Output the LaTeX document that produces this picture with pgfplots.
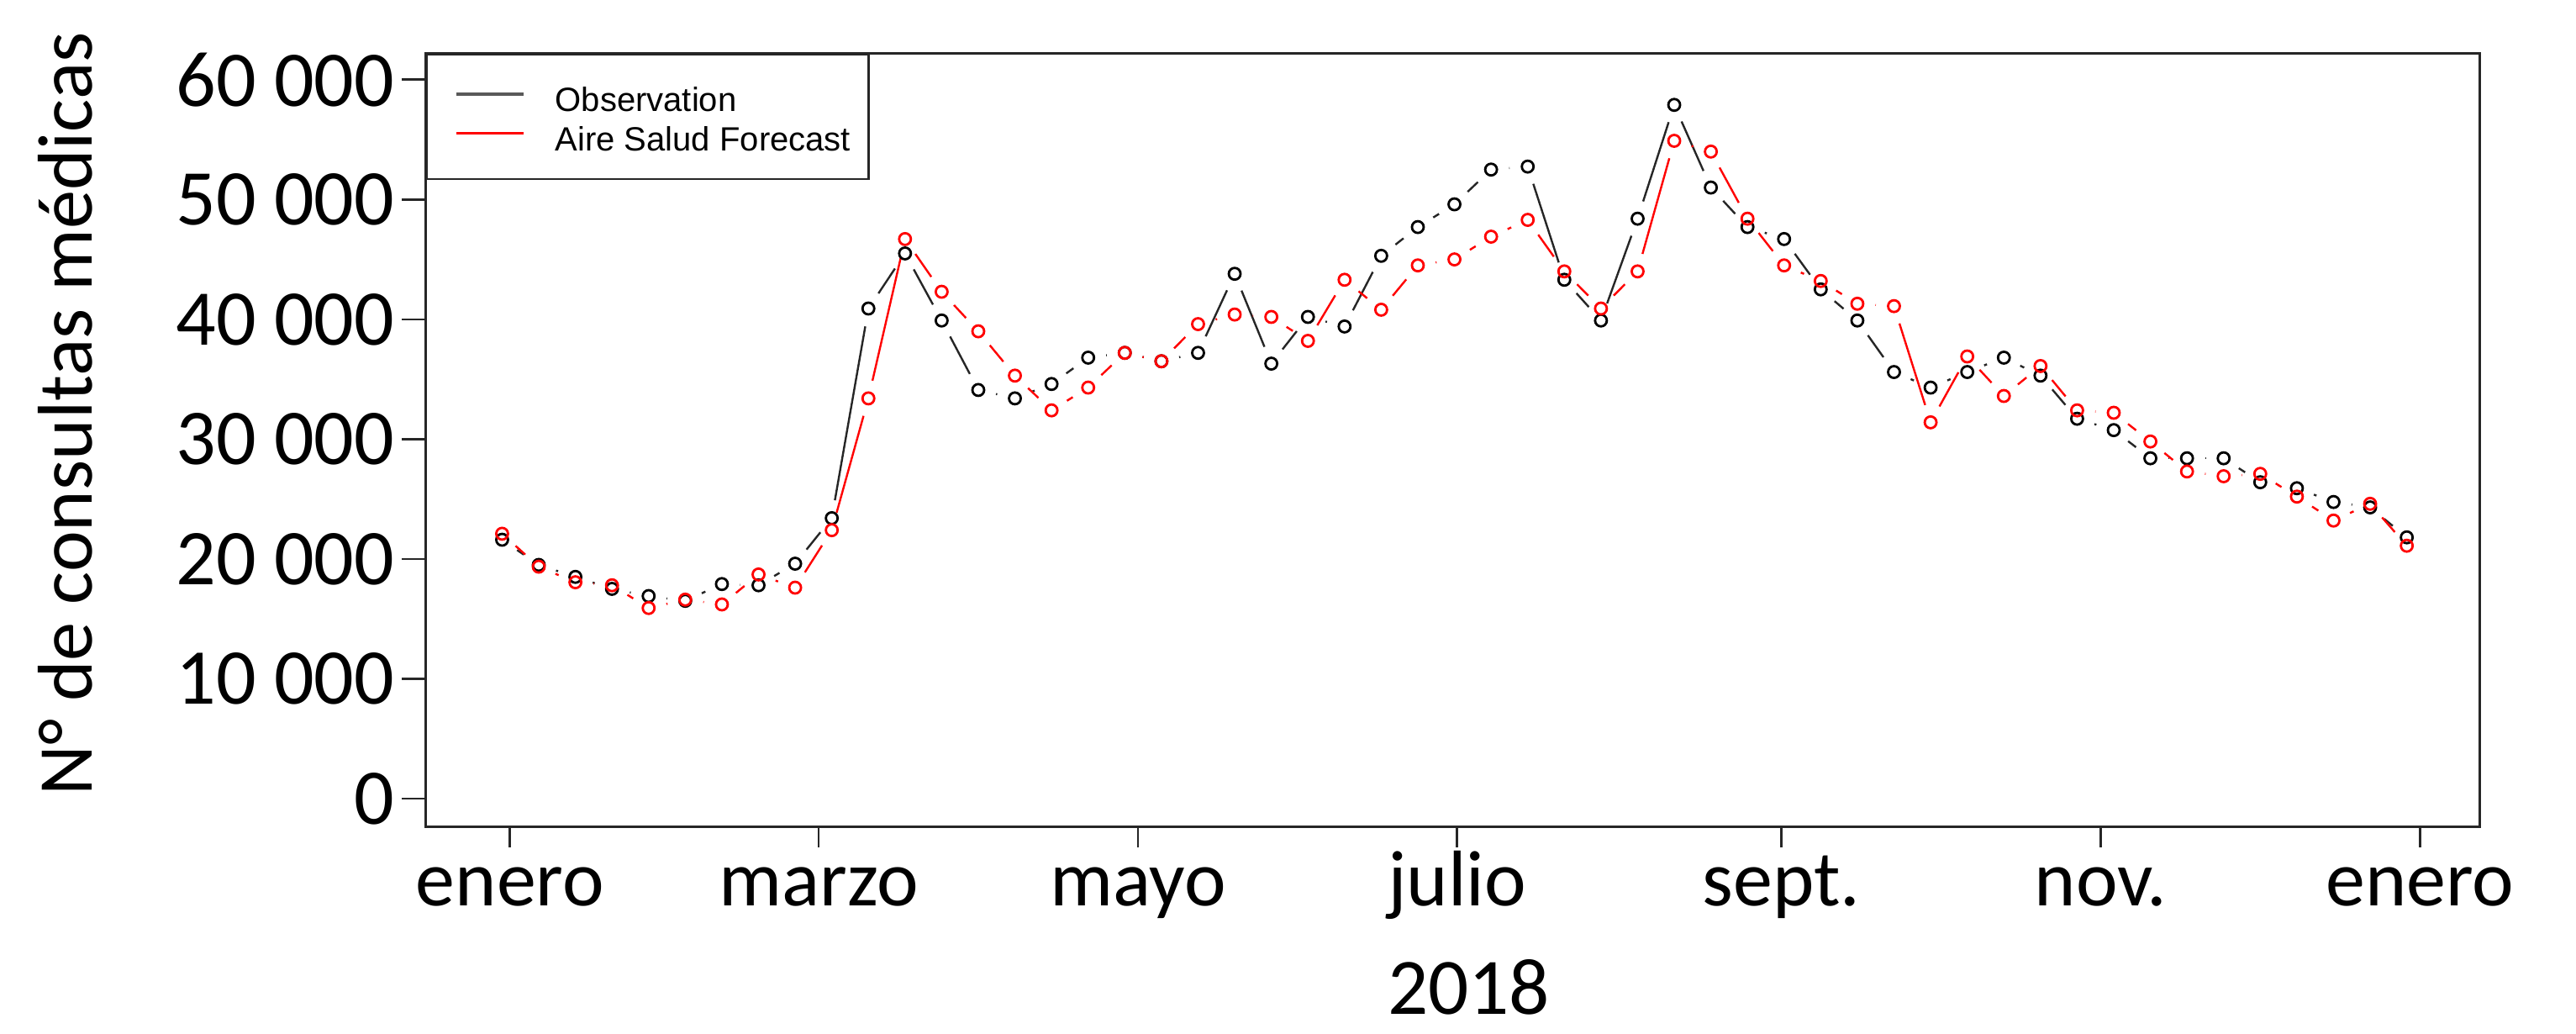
\documentclass[border=0pt]{standalone}
\usepackage{fontspec}
\setmainfont{Carlito}
\newfontfamily\legfont{Liberation Sans}
\usepackage{pgfplots}
\usepackage{pgfplotstable}
\pgfplotsset{compat=1.18}

% weekly values, thousands of consultations; x = day of 2018
\pgfplotstableread{
x obs fc
-1.5 21.6 22.1
5.5 19.5 19.35
12.5 18.5 18.05
19.5 17.5 17.8
26.5 16.9 15.9
33.5 16.5 16.6
40.5 17.9 16.2
47.5 17.8 18.7
54.5 19.6 17.6
61.5 23.4 22.4
68.5 40.9 33.4
75.5 45.5 46.7
82.5 39.9 42.3
89.5 34.1 39.0
96.5 33.4 35.3
103.5 34.6 32.4
110.5 36.8 34.3
117.5 37.2 37.2
124.5 36.5 36.5
131.5 37.2 39.6
138.5 43.8 40.4
145.5 36.3 40.2
152.5 40.2 38.2
159.5 39.4 43.3
166.5 45.3 40.8
173.5 47.7 44.5
180.5 49.6 45.0
187.5 52.5 46.9
194.5 52.75 48.3
201.5 43.3 44.0
208.5 39.9 40.9
215.5 48.4 44.0
222.5 57.9 54.9
229.5 51.0 54.0
236.5 47.7 48.4
243.5 46.7 44.5
250.5 42.5 43.2
257.5 39.9 41.3
264.5 35.6 41.1
271.5 34.3 31.4
278.5 35.6 36.9
285.5 36.8 33.6
292.5 35.3 36.1
299.5 31.7 32.4
306.5 30.75 32.2
313.5 28.4 29.8
320.5 28.4 27.3
327.5 28.4 26.9
334.5 26.4 27.1
341.5 25.9 25.2
348.5 24.75 23.2
355.5 24.3 24.6
362.5 21.8 21.1
}\data
\pgfplotstablecreatecol[create col/expr={\nextrow{obs}-\thisrow{obs}}]{dobs}\data
\pgfplotstablecreatecol[create col/expr={\nextrow{fc}-\thisrow{fc}}]{dfc}\data

\begin{document}
\begin{tikzpicture}
\useasboundingbox (-126.7bp,-61.7bp) rectangle (639.55bp,245.8bp);
\begin{axis}[
  at={(0,0)}, anchor=south west,
  scale only axis, width=611bp, height=230bp,
  xmin=-16.06, xmax=376.5, ymin=-2.34, ymax=62.22,
  axis line style={line width=0.67bp, black!85},
  xtick={0,59,120,181,243,304,365},
  xticklabels={enero,marzo,mayo,julio,sept.,nov.,enero},
  ytick={0,10,20,30,40,50,60},
  yticklabels={0,10 000,20 000,30 000,40 000,50 000,60 000},
  tick align=outside, xtick pos=bottom, ytick pos=left,
  xtick style={line width=0.67bp, black!85, /pgfplots/major tick length=6.2bp},
  ytick style={line width=0.67bp, black!85, /pgfplots/major tick length=7.2bp},
  ticklabel style={font=\fontsize{23.5bp}{28bp}\selectfont},
  xticklabel style={anchor=base, inner sep=0pt, yshift=-19.2bp},
  yticklabel style={anchor=east, inner sep=0pt, xshift=-5bp},
  every axis x label/.style={at={(axis description cs:0.5077,-0.2426)}, anchor=base,
    inner sep=0pt, font=\fontsize{23.8bp}{28bp}\selectfont},
  every axis y label/.style={at={(axis description cs:-0.16236,0.5335)}, rotate=90, anchor=base,
    inner sep=0pt, font=\fontsize{23.1bp}{28bp}\selectfont},
  xlabel={2018},
  ylabel={N° de consultas médicas},
  legend style={at={(0,1)}, anchor=north west, draw=black!85, line width=0.67bp,
    inner xsep=5.3bp, inner ysep=4bp,
    font=\legfont\fontsize{10bp}{12bp}\selectfont,
    nodes={inner sep=0pt, text height=13.1bp, text depth=4.35bp},
    row sep=-5.8bp, column sep=9bp, cells={anchor=west}},
  legend image code/.code={\path (0bp,0bp); \draw[#1] (3bp,0.9bp) -- (22.8bp,0.9bp);},
]
\addlegendimage{black!65, line width=1.05bp}
\addlegendentry{Observation}
\addlegendimage{red, line width=0.67bp}
\addlegendentry{Aire Salud Forecast}

\addplot[forget plot, black!85, line width=0.6bp,
  quiver={u=7, v=\thisrow{dobs},
    every arrow/.append style={shorten <=5.4bp, shorten >=5.4bp}},
  skip coords between index={52}{53}]
  table[x=x, y=obs] {\data};
\addplot[forget plot, only marks, mark=o, mark size=1.75bp, black,
  mark options={line width=0.7bp}]
  table[x=x, y=obs] {\data};

\addplot[forget plot, red, line width=0.6bp,
  quiver={u=7, v=\thisrow{dfc},
    every arrow/.append style={shorten <=5.4bp, shorten >=5.4bp}},
  skip coords between index={52}{53}]
  table[x=x, y=fc] {\data};
\addplot[forget plot, only marks, mark=o, mark size=1.75bp, red,
  mark options={line width=0.7bp}]
  table[x=x, y=fc] {\data};
\end{axis}
\end{tikzpicture}
\end{document}
